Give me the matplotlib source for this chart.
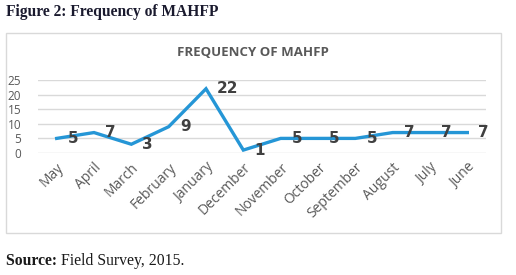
import matplotlib.pyplot as plt
from matplotlib.patches import Rectangle

months = ['May', 'April', 'March', 'February', 'January', 'December',
          'November', 'October', 'September', 'August', 'July', 'June']
freq = [5, 7, 3, 9, 22, 1, 5, 5, 5, 7, 7, 7]
yticks = [0, 5, 10, 15, 20, 25]

W, H = 516, 275
fig = plt.figure(figsize=(W / 100, H / 100), dpi=100)

# chart frame
fig.patches.append(Rectangle((6 / W, 1 - 233 / H), 495 / W, 200 / H,
                             transform=fig.transFigure, fill=False,
                             edgecolor='#d9d9d9', linewidth=1))

# plot area
ax = fig.add_axes([38 / W, 1 - 153 / H, 448 / W, 73 / H])
x = list(range(len(months)))
ax.plot(x, freq, color='#2596d6', linewidth=2.4, solid_joinstyle='miter')
for xi, v in zip(x, freq):
    ax.annotate(str(v), (xi, v), xytext=(8, 0), textcoords='offset points',
                ha='left', va='center', fontsize=11, fontweight='bold',
                color='#404040', family='DejaVu Sans')

ax.set_xlim(-0.5, len(months) - 0.5)
ax.set_ylim(0, 25)
ax.set_yticks(yticks)
ax.set_xticks(x)
ax.set_xticklabels(months, rotation=45, ha='right', rotation_mode='anchor',
                   fontsize=10, color='#595959', family='Open Sans')
ax.tick_params(axis='y', labelsize=8.5, labelcolor='#595959', length=0, pad=12)
ax.tick_params(axis='x', length=0, pad=5)
for lbl in ax.get_yticklabels():
    lbl.set_family('Open Sans')
ax.grid(axis='y', color='#d9d9d9', linewidth=1)
ax.set_axisbelow(True)
for s in ax.spines.values():
    s.set_visible(False)

fig.text(253 / W, 1 - 53 / H, 'FREQUENCY OF MAHFP', ha='center', va='center',
         fontsize=9.5, fontweight='bold', color='#595959', family='Open Sans')

fig.text(6 / W, 1 - 12 / H, 'Figure 2: Frequency of MAHFP', ha='left',
         va='center', fontsize=11.2, fontweight='bold', color='#1a1a2e',
         family='Liberation Serif')

src = fig.text(6 / W, 1 - 261 / H, 'Source: ', ha='left', va='center',
               fontsize=11.3, fontweight='bold', color='#1a1a1a',
               family='Liberation Serif')
fig.canvas.draw()
bb = src.get_window_extent()
fig.text(bb.x1 / W, 1 - 261 / H, 'Field Survey, 2015.', ha='left', va='center',
         fontsize=11.3, color='#1a1a1a', family='Liberation Serif')

fig.savefig('out.png', dpi=100)
